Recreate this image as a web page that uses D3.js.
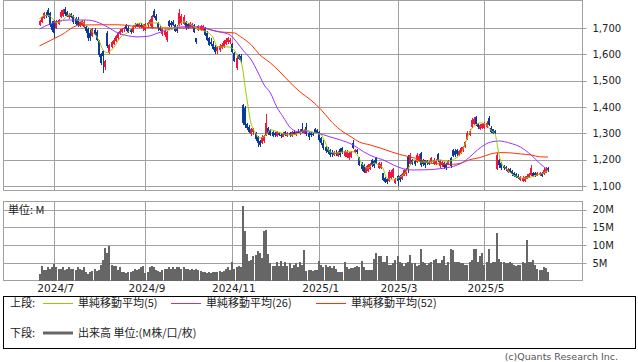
<!DOCTYPE html>
<html>
<head>
<meta charset="utf-8">
<script src="https://cdn.jsdelivr.net/npm/d3@7"></script>
<style>
  body { margin: 0; background: #fff; }
  text { font-family: "DejaVu Sans", sans-serif; }
  .jp { font-family: "Noto Sans CJK JP", sans-serif; }
</style>
</head>
<body>
<svg id="chart" width="638" height="362"></svg>
<script>
// daily candles, index 0 = first session shown
const opens = [
  1712,1722,1738,1750,1768,1755,1720,1728,1700,1715,
  1740,1745,1770,1760,1740,1752,1745,1738,1735,1708,
  1712,1705,1705,1695,1680,1668,1692,1685,1652,1600,
  1612,1550,1680,1605,1628,1640,1650,1662,1678,1685,
  1695,1712,1700,1692,1685,1705,1715,1704,1712,1700,
  1692,1712,1715,1700,1765,1745,1720,1700,1676,1672,
  1655,1725,1718,1722,1710,1695,1712,1720,1715,1722,
  1716,1700,1702,1710,1660,1692,1694,1692,1700,1680,
  1660,1645,1640,1628,1612,1615,1625,1628,1640,1645,
  1645,1640,1605,1548,1598,1592,1408,1395,1335,1325,
  1298,1305,1302,1285,1270,1262,1270,1295,1320,1312,
  1305,1300,1290,1300,1292,1288,1305,1290,1300,1290,
  1305,1295,1306,1300,1315,1300,1325,1300,1300,1298,
  1318,1312,1305,1282,1265,1248,1242,1235,1230,1218,
  1226,1215,1240,1245,1215,1212,1205,1210,1265,1228,
  1238,1210,1185,1178,1150,1158,1164,1198,1195,1205,
  1168,1170,1148,1130,1125,1118,1130,1135,1112,1140,
  1138,1125,1140,1145,1210,1182,1198,1196,1190,1195,
  1225,1200,1198,1195,1192,1190,1182,1185,1222,1175,
  1178,1188,1185,1180,1205,1238,1232,1238,1218,1225,
  1235,1248,1280,1295,1325,1335,1362,1335,1318,1320,
  1322,1325,1360,1322,1315,1308,1165,1198,1188,1175,
  1172,1155,1166,1158,1150,1145,1140,1122,1118,1120,
  1128,1135,1142,1150,1148,1140,1142,1150,1145,1150,1170
];
const highs = [
  1732,1745,1762,1760,1774,1762,1725,1732,1730,1735,
  1768,1772,1778,1765,1755,1756,1750,1742,1740,1728,
  1732,1730,1712,1700,1695,1700,1698,1692,1656,1605,
  1618,1580,1690,1640,1652,1660,1672,1685,1695,1700,
  1705,1716,1708,1700,1712,1718,1720,1718,1720,1716,
  1718,1722,1735,1750,1770,1752,1722,1706,1700,1695,
  1690,1732,1728,1730,1716,1712,1770,1752,1748,1725,
  1720,1722,1720,1714,1662,1712,1710,1712,1705,1688,
  1664,1660,1650,1636,1630,1638,1642,1655,1662,1665,
  1662,1642,1610,1592,1602,1600,1412,1402,1340,1330,
  1322,1322,1305,1290,1276,1292,1295,1372,1325,1318,
  1310,1305,1310,1305,1302,1305,1310,1306,1306,1308,
  1312,1310,1315,1316,1340,1318,1340,1304,1304,1302,
  1322,1318,1308,1285,1275,1252,1250,1240,1238,1232,
  1235,1234,1245,1250,1237,1236,1230,1232,1275,1242,
  1242,1212,1190,1182,1176,1184,1186,1202,1200,1212,
  1192,1192,1150,1135,1130,1162,1160,1170,1132,1142,
  1142,1150,1165,1168,1216,1225,1202,1200,1224,1220,
  1228,1204,1200,1198,1196,1212,1205,1202,1226,1200,
  1198,1192,1188,1200,1210,1242,1240,1242,1236,1250,
  1252,1272,1310,1315,1360,1362,1366,1340,1336,1338,
  1342,1345,1365,1326,1318,1312,1225,1202,1192,1180,
  1176,1170,1170,1160,1152,1148,1145,1140,1138,1140,
  1145,1150,1180,1155,1152,1152,1155,1152,1168,1172,1172
];
const lows = [
  1708,1718,1735,1738,1740,1705,1685,1660,1695,1712,
  1738,1742,1745,1740,1735,1736,1715,1711,1705,1702,
  1708,1700,1680,1652,1652,1665,1672,1650,1590,1560,
  1530,1540,1625,1600,1622,1635,1645,1655,1672,1680,
  1685,1690,1680,1678,1682,1698,1702,1698,1700,1690,
  1688,1700,1708,1695,1738,1728,1690,1688,1670,1665,
  1648,1702,1705,1708,1685,1680,1708,1712,1710,1692,
  1695,1698,1698,1680,1640,1688,1690,1690,1668,1650,
  1630,1632,1615,1600,1600,1610,1620,1622,1635,1640,
  1638,1605,1570,1540,1578,1568,1330,1322,1312,1300,
  1290,1295,1270,1250,1248,1258,1265,1290,1292,1290,
  1285,1288,1288,1290,1284,1285,1290,1286,1288,1286,
  1292,1290,1296,1294,1300,1296,1290,1275,1288,1290,
  1300,1298,1268,1256,1238,1225,1220,1212,1210,1214,
  1215,1212,1212,1222,1210,1208,1200,1205,1240,1225,
  1222,1175,1158,1150,1148,1155,1160,1172,1170,1182,
  1165,1166,1118,1110,1108,1115,1126,1130,1108,1102,
  1115,1122,1138,1140,1150,1178,1178,1176,1188,1190,
  1172,1175,1170,1180,1180,1188,1180,1180,1192,1170,
  1172,1165,1162,1178,1168,1210,1212,1215,1214,1222,
  1230,1245,1276,1290,1320,1330,1328,1318,1314,1316,
  1318,1322,1326,1300,1298,1296,1160,1170,1160,1162,
  1158,1150,1148,1140,1136,1130,1128,1120,1114,1116,
  1125,1132,1140,1136,1135,1138,1140,1135,1142,1148,1155
];
const closes = [
  1728,1740,1755,1745,1745,1712,1692,1680,1725,1730,
  1762,1768,1752,1745,1750,1740,1722,1716,1712,1722,
  1726,1724,1688,1660,1662,1695,1678,1655,1598,1568,
  1592,1576,1632,1635,1648,1655,1668,1680,1690,1696,
  1700,1695,1686,1684,1708,1712,1706,1714,1704,1712,
  1714,1718,1730,1745,1742,1732,1698,1694,1696,1690,
  1685,1708,1710,1712,1690,1688,1755,1745,1740,1698,
  1700,1718,1716,1685,1648,1708,1706,1708,1675,1656,
  1636,1640,1620,1608,1626,1632,1636,1650,1656,1660,
  1655,1610,1576,1586,1582,1574,1340,1330,1320,1306,
  1318,1315,1278,1262,1255,1285,1290,1340,1298,1295,
  1290,1292,1306,1294,1290,1300,1295,1302,1292,1304,
  1296,1306,1300,1310,1305,1314,1296,1285,1292,1296,
  1306,1302,1275,1262,1245,1232,1228,1218,1222,1228,
  1220,1230,1218,1228,1232,1230,1226,1228,1245,1238,
  1228,1180,1165,1155,1172,1180,1182,1178,1176,1188,
  1188,1185,1122,1115,1114,1155,1152,1165,1128,1118,
  1122,1145,1160,1162,1160,1218,1185,1182,1218,1214,
  1180,1182,1178,1186,1184,1206,1200,1196,1198,1195,
  1192,1172,1168,1195,1176,1215,1218,1222,1232,1246,
  1248,1268,1302,1310,1352,1355,1335,1324,1332,1334,
  1338,1340,1332,1305,1302,1300,1218,1178,1168,1170,
  1164,1165,1152,1146,1140,1136,1132,1136,1132,1135,
  1140,1146,1170,1140,1142,1148,1150,1140,1160,1165,1160
];
// volume, millions of shares
const volumes = [
  1.9,4.3,3.1,3.1,3.8,3.5,4.0,4.7,4.0,3.5,
  3.3,3.8,3.1,3.5,3.8,3.3,3.5,3.1,3.8,3.3,
  3.1,4.0,2.6,1.9,2.5,2.8,3.3,2.8,3.1,4.5,
  5.9,9.2,7.9,9.7,4.5,4.3,4.2,3.1,4.0,2.6,
  2.4,2.2,2.5,2.6,2.8,3.3,3.1,3.3,4.0,4.3,
  2.2,2.5,4.0,4.3,4.0,3.1,2.8,2.6,3.1,3.3,
  3.5,3.8,3.3,3.8,3.5,4.0,3.8,3.5,4.0,3.5,
  3.3,3.1,3.5,3.1,3.3,3.1,2.8,2.5,2.6,2.2,
  2.5,2.2,2.6,2.5,2.6,2.8,2.6,2.8,3.3,4.0,
  3.1,5.4,3.5,4.0,4.3,3.8,21.0,13.9,7.6,5.6,
  6.0,6.9,7.3,8.3,7.9,6.5,13.9,14.4,7.5,5.0,
  4.3,4.3,5.4,4.3,5.6,4.3,5.4,4.3,5.0,3.6,
  4.5,5.0,4.0,5.4,4.5,8.7,2.9,3.0,3.2,2.8,
  3.0,3.1,5.6,4.4,4.0,4.5,3.9,4.3,3.6,4.3,
  3.4,2.5,2.5,2.4,5.4,4.0,3.5,3.6,3.6,4.0,
  4.1,4.0,5.6,4.0,3.0,3.0,3.0,3.0,6.3,7.8,
  6.9,6.9,5.4,5.4,6.9,4.5,4.5,5.0,5.9,6.9,
  5.4,5.0,4.2,5.0,5.4,7.4,5.0,5.0,4.2,4.5,
  9.1,5.4,5.0,4.5,5.0,5.4,5.9,6.3,5.0,5.0,
  5.9,6.9,4.5,5.4,9.1,8.7,5.4,5.4,5.4,5.0,
  5.0,4.5,4.5,5.4,5.9,9.1,9.0,5.4,6.9,7.8,
  4.5,5.4,9.1,5.0,5.4,5.4,13.5,6.3,5.4,5.4,
  5.0,5.0,5.4,5.0,4.5,4.2,4.4,4.5,5.4,5.0,
  11.6,5.4,5.4,5.9,4.5,3.5,3.0,3.2,3.9,3.6,2.5
];

// moving averages: [session index, value]
const ma5 = [
  [0,1735],[3,1748],[5,1745],[8,1720],[10,1723],[14,1750],[18,1730],[22,1711],
  [25,1685],[28,1654],[30,1616],[32,1606],[35,1625],[38,1662],[42,1685],[45,1711],
  [48,1719],[50,1704],[52,1719],[56,1719],[58,1700],[61,1692],[64,1700],[68,1723],
  [70,1719],[74,1700],[76,1692],[79,1685],[82,1662],[84,1628],[86,1628],[89,1628],
  [92,1616],[93,1600],[95,1575],[96,1540],[97,1478],[98.5,1400],[99.5,1350],[102,1301],
  [104,1282],[107,1294],[109,1313],[114,1301],[118,1294],[123,1301],[125,1313],[130,1301],
  [133,1294],[135,1263],[137,1230],[140,1225],[144,1230],[148,1230],[150,1218],[152,1187],
  [155,1168],[158,1187],[160,1180],[162,1168],[164,1130],[167,1123],[169,1130],[173,1153],
  [175,1180],[177,1200],[180,1191],[184,1191],[189,1200],[192,1191],[195,1200],[199,1225],
  [201,1263],[203,1305],[206,1332],[208,1340],[211,1332],[213,1312],[215,1298],[216,1260],
  [217,1215],[218,1187],[220,1168],[222,1152],[225,1136],[228,1130],[232,1134],[235,1142],
  [238,1150],[240,1160]
];
const ma26 = [
  [0,1696],[5,1715],[13,1730],[22,1730],[27,1723],[32,1704],[37,1681],[42,1670],
  [46,1666],[51,1668],[56,1681],[60,1692],[67,1704],[76,1704],[81,1692],[85,1685],
  [90,1673],[93,1647],[96,1616],[100,1578],[103,1533],[106,1484],[109,1453],[112,1400],
  [115,1362],[118,1325],[122,1306],[126,1306],[131,1301],[137,1287],[142,1275],[148,1256],
  [153,1230],[158,1210],[162,1200],[167,1180],[172,1165],[176,1161],[184,1162],[189,1166],
  [194,1172],[200,1191],[203,1210],[208,1245],[213,1267],[217,1271],[222,1263],[227,1248],
  [232,1218],[236,1187],[240,1160]
];
const ma52 = [
  [0,1632],[10,1672],[19,1711],[29,1712],[37,1712],[50,1702],[62,1700],[76,1700],
  [85,1685],[92,1681],[95,1666],[100,1635],[104,1598],[109,1567],[114,1529],[118,1495],
  [123,1457],[128,1427],[133,1389],[137,1351],[142,1313],[147,1287],[151,1267],[156,1256],
  [161,1244],[166,1230],[170,1220],[175,1210],[180,1200],[184,1187],[189,1184],[194,1182],
  [199,1187],[203,1200],[208,1208],[213,1222],[217,1227],[222,1226],[227,1222],[232,1218],
  [236,1211],[240,1210]
];

const priceTicks = [1100, 1200, 1300, 1400, 1500, 1600, 1700];
const volTicks = [5, 10, 15, 20];
const dateTickIdx = [7, 50, 91, 132, 169, 210];
const dateTickLabels = ["2024/7", "2024/9", "2024/11", "2025/1", "2025/3", "2025/5"];
const maLabels = ["単純移動平均(5)", "単純移動平均(26)", "単純移動平均(52)"];
const maColors = ["#99cc00", "#9933ff", "#ff3300"];

const svg = d3.select("#chart");
const left = 3.5, right = 582.5;
const top1 = 0.5, bot1 = 190.5, top2 = 201.5, bot2 = 280.5;

const x = d3.scaleLinear().domain([0, 240]).range([39.5, 548]);
const yP = d3.scaleLinear().domain([1085, 1806]).range([190, 0]);
const yV = d3.scaleLinear().domain([0, 22.4]).range([281, 201]);
const px = v => Math.round(v) + 0.5;

// grid lines
const grid = svg.append("g").attr("stroke", "#a0a0a0").attr("stroke-width", 1);
priceTicks.forEach(v => {
  grid.append("line").attr("x1", left).attr("x2", right + 4)
    .attr("y1", px(yP(v))).attr("y2", px(yP(v)));
});
volTicks.forEach(v => {
  grid.append("line").attr("x1", left).attr("x2", right + 4)
    .attr("y1", px(yV(v))).attr("y2", px(yV(v)));
});
dateTickIdx.forEach(i => {
  grid.append("line").attr("x1", px(x(i))).attr("x2", px(x(i))).attr("y1", top1).attr("y2", bot1);
  grid.append("line").attr("x1", px(x(i))).attr("x2", px(x(i))).attr("y1", top2).attr("y2", bot2);
});
grid.append("rect").attr("x", left).attr("y", top1).attr("width", right - left).attr("height", bot1 - top1).attr("fill", "none");
grid.append("rect").attr("x", left).attr("y", top2).attr("width", right - left).attr("height", bot2 - top2).attr("fill", "none");

// volume bars
svg.append("g").attr("shape-rendering", "crispEdges")
  .selectAll("rect").data(volumes).join("rect")
  .attr("x", (d, i) => Math.round(x(i)) - 1)
  .attr("width", 2)
  .attr("y", d => yV(d))
  .attr("height", d => yV(0) - yV(d))
  .attr("fill", "#666666");

// candles
const candles = svg.append("g").attr("shape-rendering", "crispEdges")
  .selectAll("g").data(closes).join("g")
  .attr("fill", (c, i) => c >= opens[i] ? "#f5133f" : "#0a3a9a");
candles.append("rect")
  .attr("x", (c, i) => Math.round(x(i)))
  .attr("width", 1)
  .attr("y", (c, i) => yP(highs[i]))
  .attr("height", (c, i) => Math.max(1, yP(lows[i]) - yP(highs[i])));
candles.append("rect")
  .attr("x", (c, i) => Math.round(x(i)) - 1)
  .attr("width", 2)
  .attr("y", (c, i) => yP(Math.max(c, opens[i])))
  .attr("height", (c, i) => Math.max(1, Math.abs(yP(c) - yP(opens[i]))));

// moving averages
const line = d3.line().x(d => x(d[0])).y(d => yP(d[1])).curve(d3.curveMonotoneX);
[ma52, ma26, ma5].forEach((s, k) => {
  svg.append("path").datum(s).attr("d", line)
    .attr("fill", "none").attr("stroke", maColors[2 - k]).attr("stroke-width", 1);
});

// axes
const priceAxis = d3.axisRight(yP).tickValues(priceTicks).tickFormat(d3.format(","))
  .tickSize(0).tickPadding(10);
svg.append("g").attr("transform", `translate(${right},0)`).call(priceAxis)
  .call(g => g.select(".domain").remove())
  .selectAll("text").attr("font-size", 10).attr("fill", "#222").attr("font-family", "DejaVu Sans");

const volAxis = d3.axisRight(yV).tickValues(volTicks).tickFormat(d => d + "M")
  .tickSize(0).tickPadding(10);
svg.append("g").attr("transform", `translate(${right},0)`).call(volAxis)
  .call(g => g.select(".domain").remove())
  .selectAll("text").attr("font-size", 10).attr("fill", "#222").attr("font-family", "DejaVu Sans");

const dateAxis = d3.axisBottom(x).tickValues(dateTickIdx)
  .tickFormat((d, i) => dateTickLabels[i]).tickSize(0).tickPadding(4);
svg.append("g").attr("transform", `translate(1,${bot2})`).call(dateAxis)
  .call(g => g.select(".domain").remove())
  .selectAll("text").attr("font-size", 10.5).attr("fill", "#222").attr("font-family", "DejaVu Sans");

svg.append("text").attr("class", "jp").attr("x", 8).attr("y", 214)
  .attr("font-size", 11).attr("fill", "#222").text("単位: M");

// legend
const lg = svg.append("g");
lg.append("rect").attr("x", 3.5).attr("y", 296.5).attr("width", 632).attr("height", 52)
  .attr("fill", "none").attr("stroke", "#000");
lg.append("text").attr("class", "jp").attr("x", 10).attr("y", 307).attr("font-size", 11).attr("fill", "#222").text("上段:");
const legX = [43, 171, 316];
maLabels.forEach((t, k) => {
  lg.append("line").attr("x1", legX[k]).attr("x2", legX[k] + 30).attr("y1", 303.5).attr("y2", 303.5)
    .attr("stroke", maColors[k]).attr("stroke-width", 1);
  lg.append("text").attr("class", "jp").attr("x", legX[k] + 35).attr("y", 307)
    .attr("font-size", 11).attr("fill", "#222").text(t);
});
lg.append("text").attr("class", "jp").attr("x", 10).attr("y", 337).attr("font-size", 11).attr("fill", "#222").text("下段:");
lg.append("line").attr("x1", 43).attr("x2", 73).attr("y1", 333).attr("y2", 333)
  .attr("stroke", "#666").attr("stroke-width", 3);
lg.append("text").attr("class", "jp").attr("x", 78).attr("y", 337)
  .attr("font-size", 11).attr("fill", "#222").text("出来高 単位:(M株/口/枚)");

svg.append("text").attr("x", 618).attr("y", 360).attr("text-anchor", "end")
  .attr("font-size", 9.5).attr("fill", "#555").text("(c)Quants Research Inc.");
</script>
</body>
</html>
